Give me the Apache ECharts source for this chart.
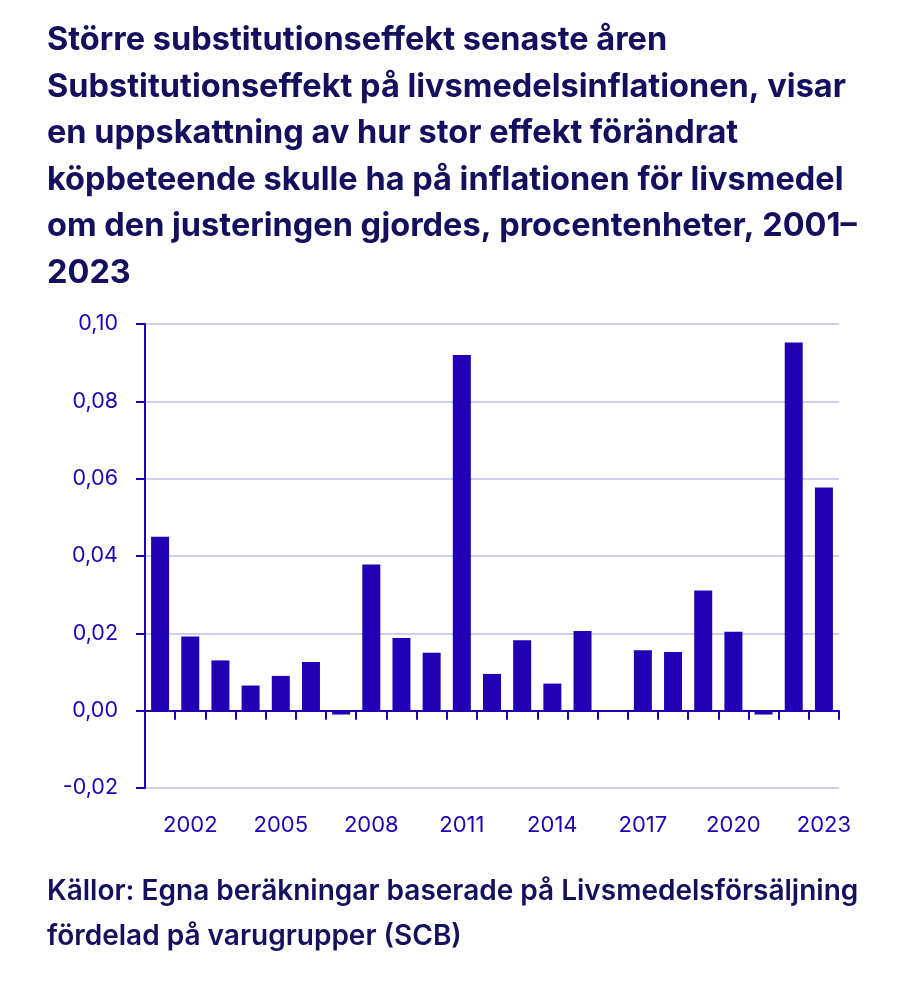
<!DOCTYPE html>
<html>
<head>
<meta charset="utf-8">
<script src="https://cdn.jsdelivr.net/npm/echarts@6/dist/echarts.min.js"></script>
<style>
html,body{margin:0;padding:0;background:#fff;}
#chart{width:916px;height:1000px;}
</style>
</head>
<body>
<div id="chart"></div>
<script>
const titleLines = [
  "Större substitutionseffekt senaste åren",
  "Substitutionseffekt på livsmedelsinflationen, visar",
  "en uppskattning av hur stor effekt förändrat",
  "köpbeteende skulle ha på inflationen för livsmedel",
  "om den justeringen gjordes, procentenheter, 2001–",
  "2023"
];
const sourceLines = [
  "Källor: Egna beräkningar baserade på Livsmedelsförsäljning",
  "fördelad på varugrupper (SCB)"
];
const years = ["2001","2002","2003","2004","2005","2006","2007","2008","2009","2010","2011","2012","2013","2014","2015","2016","2017","2018","2019","2020","2021","2022","2023"];
const values = [0.0450,0.0192,0.0130,0.0065,0.0090,0.0126,-0.0010,0.0378,0.0188,0.0150,0.0920,0.0095,0.0182,0.0070,0.0206,null,0.0156,0.0152,0.0311,0.0204,-0.0010,0.0952,0.0577];
const yMin = -0.02, yMax = 0.10, yStep = 0.02;

const navy = '#14105e';
const blue = '#2200b5';
const chart = echarts.init(document.getElementById('chart'), null, {renderer:'canvas'});
chart.setOption({
  animation:false,
  backgroundColor:'#fff',
  title:[{
    text: titleLines.join('\n'),
    left: 42, top: 12,
    textStyle:{fontFamily:'Inter', fontWeight:700, fontSize:32.5, lineHeight:46.5, color:navy}
  },{
    text: sourceLines.join('\n'),
    left: 42, top: 864,
    textStyle:{fontFamily:'Inter', fontWeight:600, fontSize:28, lineHeight:45, color:navy}
  }],
  grid:{left:145, right:77, top:324, bottom:212, containLabel:false},
  xAxis:[{
    type:'category', data:years, position:'bottom',
    axisLine:{onZero:true, lineStyle:{color:blue, width:2}},
    axisTick:{show:true, interval:0, length:9, lineStyle:{color:blue, width:2}},
    axisLabel:{show:false}
  },{
    type:'category', data:years, position:'bottom',
    axisLine:{show:false, onZero:false}, axisTick:{show:false},
    axisLabel:{
      interval:(i)=> (i-1)%3===0,
      margin:26, fontFamily:'Inter', fontSize:22, color:blue
    }
  }],
  yAxis:{
    type:'value', min:yMin, max:yMax, interval:yStep,
    axisLine:{show:true, lineStyle:{color:blue, width:2}},
    axisTick:{show:true, length:9, lineStyle:{color:blue, width:2}},
    axisLabel:{margin:27, fontFamily:'Inter', fontSize:21.5, color:blue,
      formatter:(v)=> v.toFixed(2).replace('.',',')},
    splitLine:{show:true, lineStyle:{color:'#cfcdf0', width:2}}
  },
  series:[{
    type:'bar', data:values, xAxisIndex:0, barWidth:18,
    itemStyle:{color:blue}
  }]
});
</script>
</body>
</html>
